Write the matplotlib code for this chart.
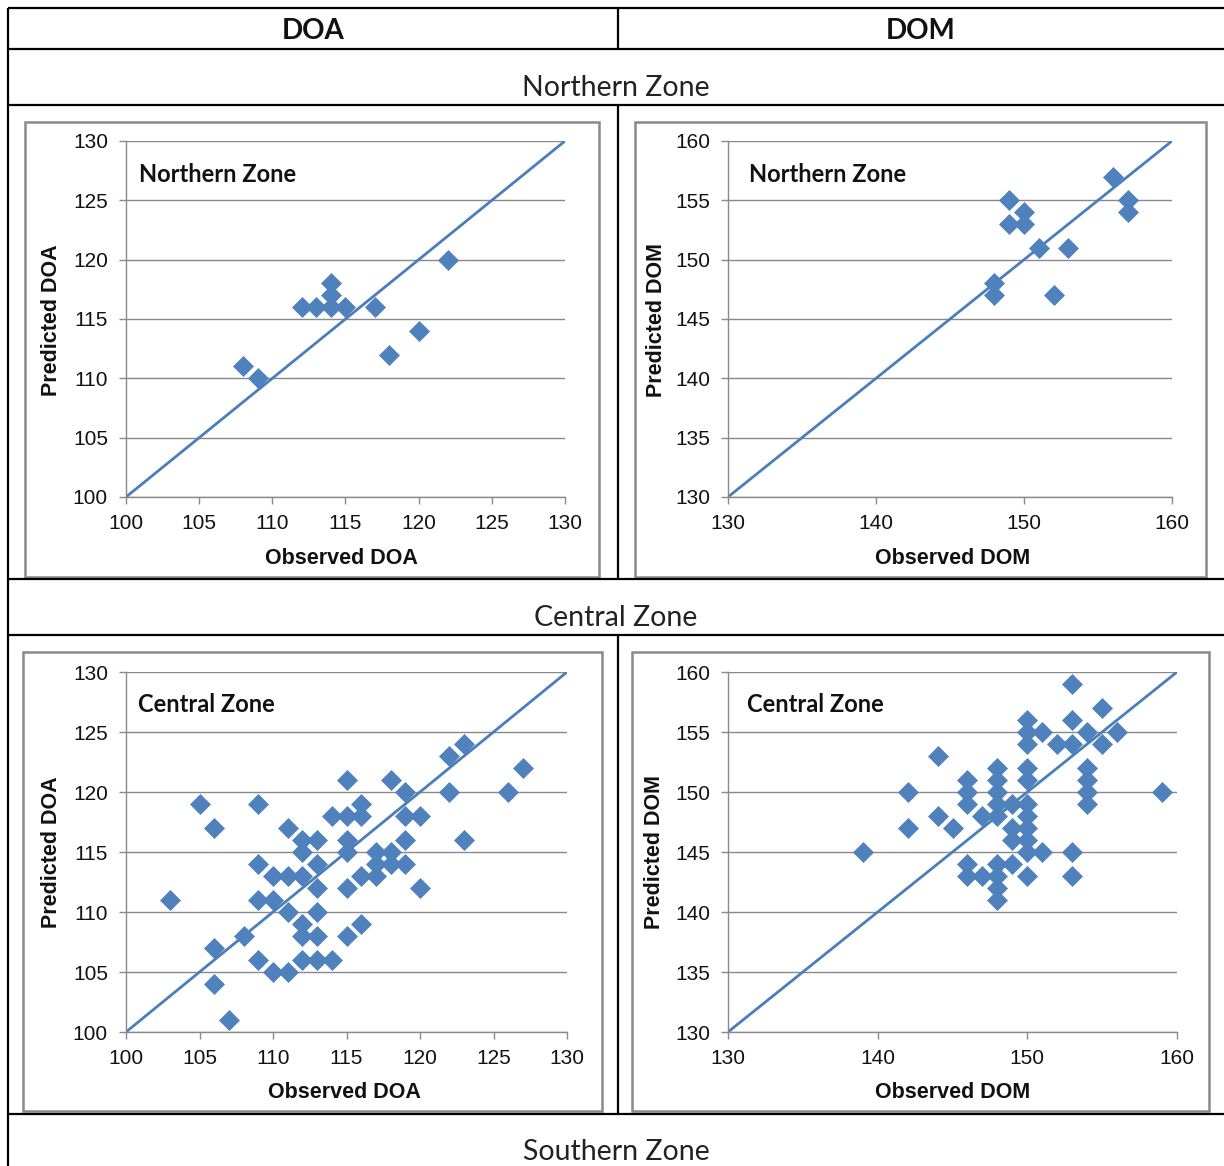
import matplotlib
matplotlib.use('Agg')
import matplotlib.pyplot as plt
from matplotlib.lines import Line2D
from matplotlib.patches import Rectangle

# ---------------- data ----------------
north_doa_obs = [108, 109, 112, 113, 114, 114, 114, 115, 117, 118, 120, 122]
north_doa_pred = [111, 110, 116, 116, 116, 117, 118, 116, 116, 112, 114, 120]

north_dom_obs = [148, 148, 149, 149, 150, 150, 151, 152, 153, 156, 157, 157]
north_dom_pred = [148, 147, 155, 153, 154, 153, 151, 147, 151, 157, 155, 154]

central_doa_obs = [103, 105, 106, 106, 106, 107, 108, 109, 109, 109, 109, 110, 110, 110,
                   111, 111, 111, 111, 112, 112, 112, 112, 112, 112, 113, 113, 113, 113,
                   113, 113, 114, 114, 115, 115, 115, 115, 115, 115, 116, 116, 116, 116,
                   117, 117, 117, 118, 118, 118, 119, 119, 119, 119, 120, 120, 122, 122,
                   123, 123, 126, 127]
central_doa_pred = [111, 119, 117, 107, 104, 101, 108, 119, 114, 111, 106, 113, 111, 105,
                    117, 113, 110, 105, 116, 115, 113, 109, 108, 106, 116, 114, 112, 110,
                    108, 106, 118, 106, 121, 118, 116, 115, 112, 108, 119, 118, 113, 109,
                    115, 114, 113, 121, 115, 114, 120, 118, 116, 114, 118, 112, 123, 120,
                    124, 116, 120, 122]

central_dom_obs = [139, 142, 142, 144, 144, 145, 146, 146, 146, 146, 146, 147, 147,
                   148, 148, 148, 148, 148, 148, 148, 148, 148, 149, 149, 149, 149,
                   150, 150, 150, 150, 150, 150, 150, 150, 150, 150, 150, 151, 151,
                   152, 153, 153, 153, 153, 153, 154, 154, 154, 154, 154, 155, 155,
                   156, 159]
central_dom_pred = [145, 150, 147, 153, 148, 147, 151, 150, 149, 144, 143, 148, 143,
                    152, 151, 150, 149, 148, 144, 143, 142, 141, 149, 147, 146, 144,
                    156, 155, 154, 152, 151, 149, 148, 147, 146, 145, 143, 155, 145,
                    154, 159, 156, 154, 145, 143, 155, 152, 151, 150, 149, 157, 154,
                    155, 150]

doa_ticks = [100, 105, 110, 115, 120, 125, 130]
dom_ticks = [130, 135, 140, 145, 150, 155, 160]
dom_xticks = [130, 140, 150, 160]

headers = ["DOA", "DOM"]
zones = ["Northern Zone", "Central Zone", "Southern Zone"]

# ---------------- layout helpers ----------------
W, H = 1224, 1166
fig = plt.figure(figsize=(W / 100, H / 100), dpi=100)
fig.patch.set_facecolor('white')


def fx(x):
    return x / W


def fy(y):
    return 1 - y / H


CAL = ['Lato', 'DejaVu Sans']
ARI = ['Liberation Sans', 'DejaVu Sans']
BLUE = '#4F81BD'
GRAY = '#898989'


def hline(y, x0, x1):
    fig.add_artist(Line2D([fx(x0), fx(x1)], [fy(y), fy(y)], transform=fig.transFigure,
                          color='black', lw=1.6, solid_capstyle='butt'))


def vline(x, y0, y1):
    fig.add_artist(Line2D([fx(x), fx(x)], [fy(y0), fy(y1)], transform=fig.transFigure,
                          color='black', lw=1.6, solid_capstyle='butt'))


# table lines
for y in [8, 48.5, 104.5, 578.5, 634.5, 1113.5]:
    hline(y, 7.5, W)
vline(8, 7.5, H)
vline(618, 8, 48.5)
vline(618, 104.5, 578.5)
vline(618, 634.5, 1113.5)

# header text
fig.text(fx(313), fy(31), headers[0], family=CAL, weight='bold', fontsize=20,
         ha='center', va='center', color='#111111')
fig.text(fx(921), fy(31), headers[1], family=CAL, weight='bold', fontsize=20,
         ha='center', va='center', color='#111111')
for label, yc in zip(zones, [88, 618, 1152]):
    fig.text(fx(616), fy(yc), label, family=CAL, fontsize=20.5,
             ha='center', va='center', color='#222222')

# chart boxes
for (x0, y0, x1, y1) in [(25, 122, 599, 577), (635, 122, 1206, 577),
                         (23, 652, 602, 1111), (632, 652, 1209, 1111)]:
    fig.add_artist(Rectangle((fx(x0), fy(y1)), (x1 - x0) / W, (y1 - y0) / H,
                             transform=fig.transFigure, fill=False,
                             edgecolor=GRAY, lw=1.8))


def panel(rect, obs, pred, xticks, yticks, title, xlabel, ylabel,
          title_pos, xlabel_pos, ylabel_pos):
    l, t, r, b = rect
    ax = fig.add_axes([fx(l), fy(b), (r - l) / W, (b - t) / H])
    lo, hi = yticks[0], yticks[-1]
    ax.set_xlim(xticks[0], xticks[-1])
    ax.set_ylim(lo, hi)
    ax.set_xticks(xticks)
    ax.set_yticks(yticks)
    for s in ['top', 'right']:
        ax.spines[s].set_visible(False)
    for s in ['left', 'bottom']:
        ax.spines[s].set_color(GRAY)
        ax.spines[s].set_linewidth(1.0)
    ax.yaxis.grid(True, color=GRAY, lw=1.0)
    ax.set_axisbelow(True)
    ax.tick_params(axis='both', direction='out', length=5, width=1.0, color=GRAY,
                   labelsize=15, labelcolor='#111111')
    ax.tick_params(axis='y', pad=8)
    ax.tick_params(axis='x', pad=7)
    for lab in ax.get_xticklabels() + ax.get_yticklabels():
        lab.set_family(ARI)
    ax.plot([xticks[0], xticks[-1]], [lo, hi], color='#4A7EBB', lw=2.0,
            solid_capstyle='butt', zorder=2)
    ax.plot(obs, pred, linestyle='none', marker='D', markersize=9.8,
            color=BLUE, markeredgecolor=BLUE, markeredgewidth=0.5, zorder=3,
            clip_on=False)
    fig.text(fx(title_pos[0]), fy(title_pos[1]), title, family=CAL, weight='bold',
             fontsize=17, ha='left', va='center', color='#111111')
    fig.text(fx(xlabel_pos[0]), fy(xlabel_pos[1]), xlabel, family=ARI, weight='bold',
             fontsize=15.5, ha='center', va='center', color='#111111')
    fig.text(fx(ylabel_pos[0]), fy(ylabel_pos[1]), ylabel, family=ARI, weight='bold',
             fontsize=15.5, ha='center', va='center', rotation=90, color='#111111')
    return ax


panel((126, 141, 565, 497), north_doa_obs, north_doa_pred, doa_ticks, doa_ticks,
      zones[0], "Observed DOA", "Predicted DOA", (139, 175), (341, 559), (52, 320))
panel((728, 141, 1172, 497), north_dom_obs, north_dom_pred, dom_xticks, dom_ticks,
      zones[0], "Observed DOM", "Predicted DOM", (749, 175), (953, 559), (656, 320))
panel((126, 672, 567, 1032), central_doa_obs, central_doa_pred, doa_ticks, doa_ticks,
      zones[1], "Observed DOA", "Predicted DOA", (138, 705), (344, 1093), (52, 852))
panel((728, 672, 1177, 1032), central_dom_obs, central_dom_pred, dom_xticks, dom_ticks,
      zones[1], "Observed DOM", "Predicted DOM", (747, 705), (953, 1093), (655, 852))

fig.savefig('out.png', dpi=100, facecolor='white')
